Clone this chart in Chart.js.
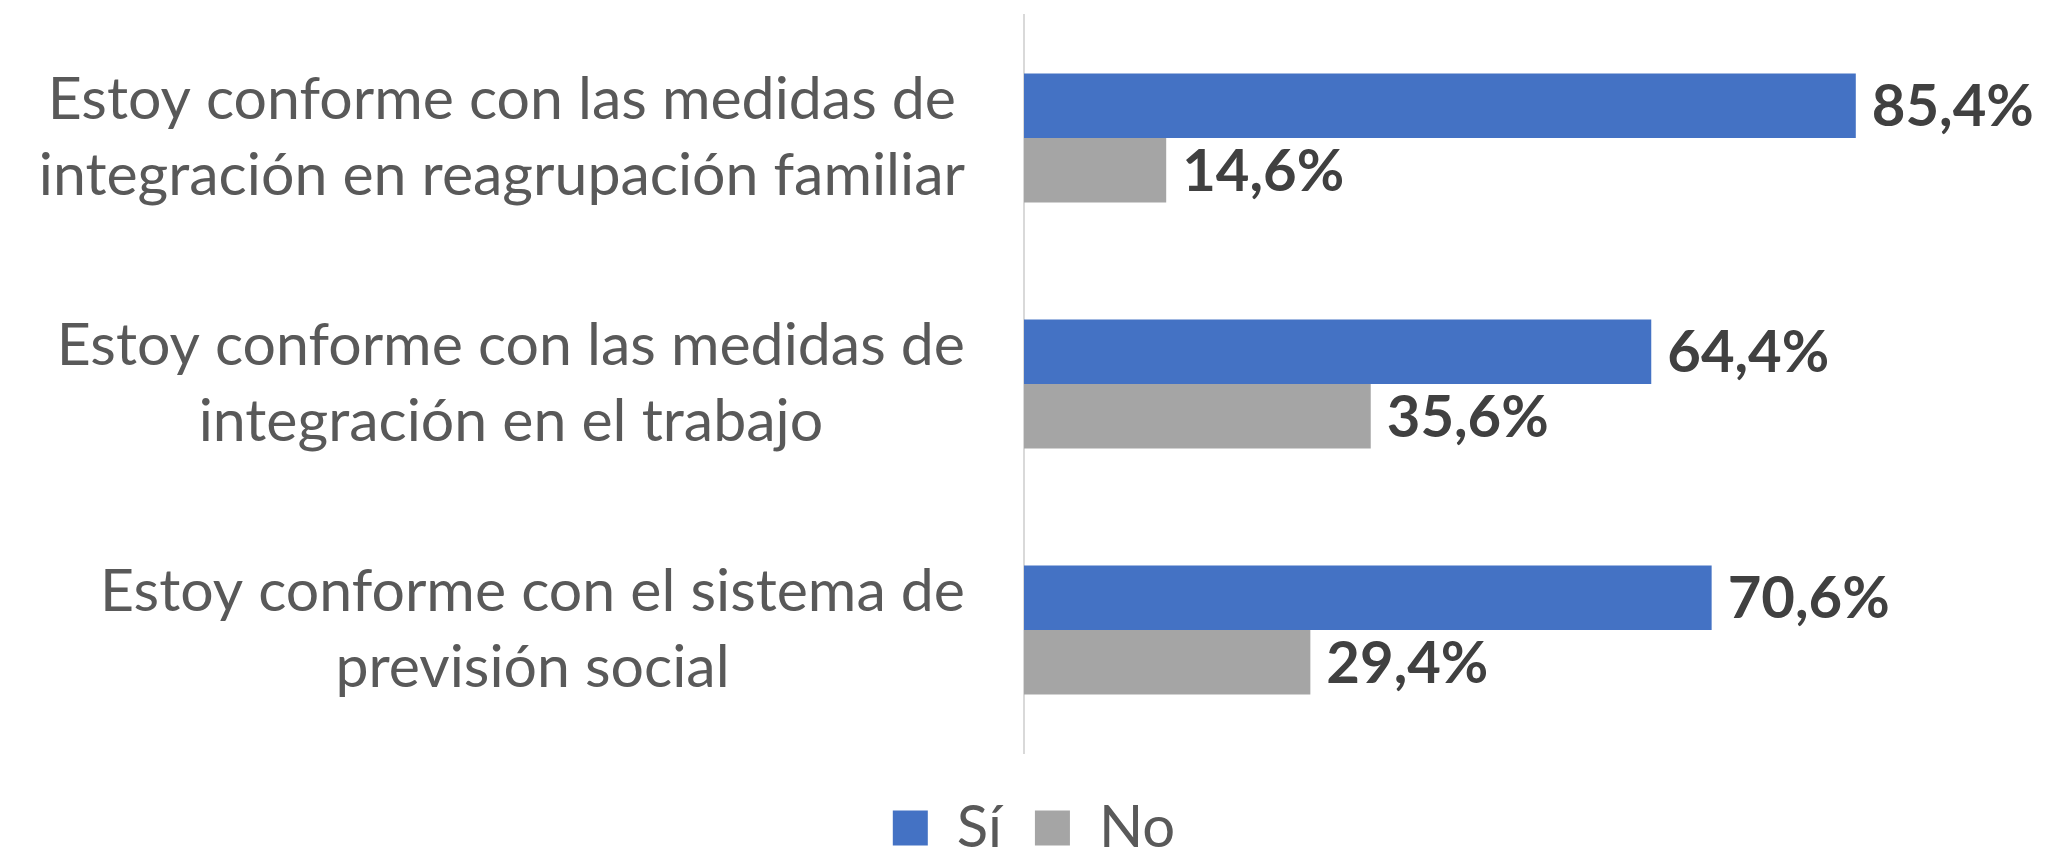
<!DOCTYPE html>
<html>
<head>
<meta charset="utf-8">
<script src="https://cdn.jsdelivr.net/npm/chart.js@4/dist/chart.umd.min.js"></script>
<style>
  html, body { margin: 0; padding: 0; background: #fff; }
  #wrap { width: 2053px; height: 850px; }
</style>
</head>
<body>
<div id="wrap"><canvas id="chart"></canvas></div>
<script>
// categories, each one split in two lines like the original
const categories = [
  ['Estoy conforme con las medidas de', 'integración en reagrupación familiar'],
  ['Estoy conforme con las medidas de', 'integración en el trabajo'],
  ['Estoy conforme con el sistema de', 'previsión social']
];
const siValues = [85.4, 64.4, 70.6];
const noValues = [14.6, 35.6, 29.4];
const seriesNames = ['Sí', 'No'];

const labelFont = '"Lato", "Noto Sans", sans-serif';

// draws the category labels: block right aligned, lines centered in the block
const catLabels = {
  id: 'catLabels',
  afterDraw(chart) {
    const ctx = chart.ctx;
    const y = chart.scales.y;
    ctx.save();
    ctx.font = '59px ' + labelFont;
    ctx.fillStyle = '#595959';
    ctx.textBaseline = 'middle';
    ctx.textAlign = 'center';
    const right = chart.chartArea.left - 59;
    const lineH = 76;
    categories.forEach((lines, i) => {
      const yc = y.getPixelForTick(i);
      const w = Math.max(...lines.map(l => ctx.measureText(l).width));
      const xc = right - w / 2;
      lines.forEach((l, j) => {
        ctx.fillText(l, xc, yc + (j - (lines.length - 1) / 2) * lineH);
      });
    });
    ctx.restore();
  }
};

// value labels at the end of each bar
const valueLabels = {
  id: 'valueLabels',
  afterDatasetsDraw(chart) {
    const ctx = chart.ctx;
    ctx.save();
    ctx.font = 'bold 58px ' + labelFont;
    ctx.fillStyle = '#404040';
    ctx.textBaseline = 'middle';
    ctx.textAlign = 'left';
    chart.data.datasets.forEach((ds, di) => {
      chart.getDatasetMeta(di).data.forEach((bar, i) => {
        const txt = ds.data[i].toFixed(1).replace('.', ',') + '%';
        ctx.fillText(txt, bar.x + 16, bar.y + 2);
      });
    });
    ctx.restore();
  }
};

new Chart(document.getElementById('chart'), {
  type: 'bar',
  data: {
    labels: categories,
    datasets: [
      {
        label: seriesNames[0],
        data: siValues,
        backgroundColor: '#4472C4',
        borderWidth: 0,
        barPercentage: 1,
        categoryPercentage: 0.524
      },
      {
        label: seriesNames[1],
        data: noValues,
        backgroundColor: '#A5A5A5',
        borderWidth: 0,
        barPercentage: 1,
        categoryPercentage: 0.524
      }
    ]
  },
  options: {
    indexAxis: 'y',
    responsive: true,
    maintainAspectRatio: false,
    animation: false,
    layout: {
      padding: { top: 8, right: 55, bottom: -17, left: 70 }
    },
    scales: {
      x: {
        display: true,
        min: 0,
        max: 100,
        grid: { display: false, drawTicks: false },
        border: { display: false },
        ticks: { display: false },
        afterFit(scale) { scale.height = 13; }
      },
      y: {
        grid: { display: false, drawTicks: false },
        border: { display: true, color: '#d9d9d9', width: 2 },
        ticks: { color: 'rgba(0,0,0,0)', font: { size: 10 } },
        afterFit(scale) { scale.width = 954; }
      }
    },
    plugins: {
      legend: {
        position: 'bottom',
        labels: {
          boxWidth: 35,
          boxHeight: 35,
          padding: 33,
          color: '#595959',
          font: { size: 58, family: labelFont }
        }
      },
      tooltip: { enabled: false }
    }
  },
  plugins: [catLabels, valueLabels]
});
</script>
</body>
</html>
